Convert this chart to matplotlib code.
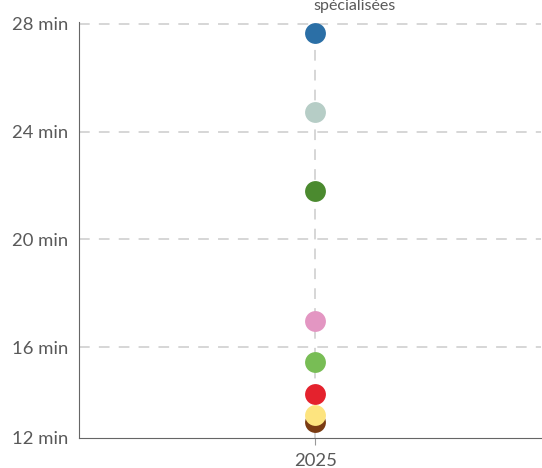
import matplotlib
matplotlib.use("Agg")
import matplotlib.pyplot as plt

plt.rcParams['font.family'] = ['Lato', 'DejaVu Sans']

categories = ["2025"]
series_names = ["brown", "yellow", "red", "lightgreen", "pink", "darkgreen", "grey", "blue"]
values = [13.22, 13.48, 14.26, 15.44, 16.96, 21.78, 24.74, 27.67]
colors = ["#7a3b12", "#fde47f", "#e4222d", "#78bd55", "#e396c2", "#4b8a2f", "#b6cdc6", "#2b6fa6"]
ytick_vals = [12.63, 16, 20, 24, 28]
ytick_labels = ["12 min", "16 min", "20 min", "24 min", "28 min"]
top_label = "spécialisées"

fig = plt.figure(figsize=(5.42, 4.68), dpi=100)
ax = fig.add_axes([79/542, 1-438/468, (541-79)/542, (438-22)/468])

ax.set_ylim(12.63, 28.07)
ax.set_xlim(-0.511, 0.489)

for y in ytick_vals[1:]:
    ax.axhline(y, color="#cccccc", lw=1.1, dashes=(7, 6), zorder=1)
ax.axvline(0, color="#cccccc", lw=1.1, dashes=(7, 6), zorder=1)

for v, c in zip(values, colors):
    ax.scatter([0], [v], s=225, color=c, zorder=3, linewidths=0)

ax.set_xticks([0])
ax.set_xticklabels(categories)
ax.set_yticks(ytick_vals)
ax.set_yticklabels(ytick_labels)

for s in ["top", "right"]:
    ax.spines[s].set_visible(False)
ax.spines["left"].set_color("#666666")
ax.spines["bottom"].set_color("#666666")
ax.tick_params(axis="y", length=0, pad=8, labelsize=13.3, labelcolor="#595959")
ax.tick_params(axis="x", length=5, color="#999999", pad=6, labelsize=13.3, labelcolor="#595959")

fig.text(355/542, 1-10/468, top_label, ha="center", va="baseline", fontsize=11.5,
         color="#595959")

fig.savefig("out.png", dpi=100)
